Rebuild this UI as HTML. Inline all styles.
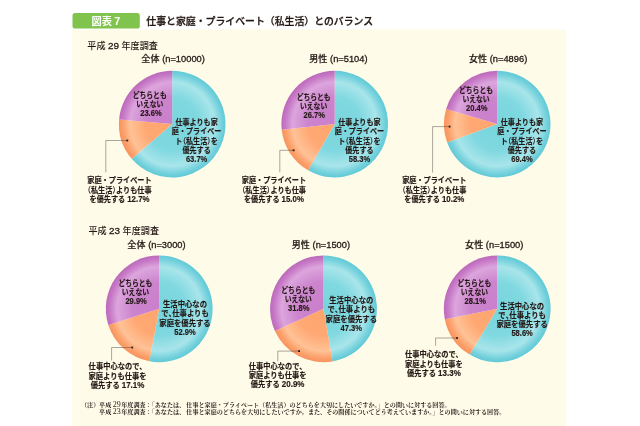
<!DOCTYPE html>
<html lang="ja"><head><meta charset="utf-8"><title>図表7 仕事と家庭・プライベート（私生活）とのバランス</title>
<style>
html,body{margin:0;padding:0;background:#fff;}
body{width:640px;height:426px;overflow:hidden;position:relative;font-family:"Liberation Sans","Noto Sans CJK JP",sans-serif;}
svg{position:absolute;left:0;top:0;display:block}
text{font-family:"Liberation Sans","Noto Sans CJK JP",sans-serif;fill:#231815}
.b{font-weight:700}
.m{font-weight:500}
.lbl{font-size:8.0px;font-weight:700;text-anchor:middle;stroke:#231815;stroke-width:0.16px}
.lbl .d{font-size:8.8px}
.pa{font-feature-settings:"halt";font-weight:500}
.pa2{font-feature-settings:"halt"}
.hd{font-size:9.1px;font-weight:500;text-anchor:middle;stroke:#231815;stroke-width:0.2px}
.hd .d{font-weight:400;font-size:9.3px;stroke:#231815;stroke-width:0.3px}
.yr{font-size:9.1px;font-weight:500}
.yr .d{font-size:9.9px;font-weight:400;stroke:#231815;stroke-width:0.3px}
.note{font-family:"Liberation Serif","Noto Serif CJK JP","Noto Serif CJK SC",serif;font-size:6.09px;fill:#231815;font-weight:700;text-spacing-trim:space-all}
.note .h{font-feature-settings:"halt"}
.note .d{font-size:8px;font-weight:400}
.ld{fill:none;stroke:#57514d;stroke-width:0.5}
</style></head><body>
<svg width="640" height="426" viewBox="0 0 640 426">
<defs>
<radialGradient id="gc1" gradientUnits="userSpaceOnUse" cx="172.2" cy="124.1" r="53.3"><stop offset="0" stop-color="#78d5dd"/><stop offset="0.5" stop-color="#80d8e0"/><stop offset="0.79" stop-color="#a8e5ea"/><stop offset="0.93" stop-color="#74d1dc"/><stop offset="1" stop-color="#60c9d7"/></radialGradient>
<radialGradient id="go1" gradientUnits="userSpaceOnUse" cx="172.2" cy="124.1" r="53.3"><stop offset="0" stop-color="#ffa56e"/><stop offset="0.5" stop-color="#ffa873"/><stop offset="0.79" stop-color="#ffc296"/><stop offset="0.93" stop-color="#fc9e68"/><stop offset="1" stop-color="#f6945e"/></radialGradient>
<radialGradient id="gp1" gradientUnits="userSpaceOnUse" cx="172.2" cy="124.1" r="53.3"><stop offset="0" stop-color="#ca7fcb"/><stop offset="0.5" stop-color="#cc84cd"/><stop offset="0.79" stop-color="#dca5dd"/><stop offset="0.93" stop-color="#c677c5"/><stop offset="1" stop-color="#bb6aba"/></radialGradient>
<radialGradient id="gc2" gradientUnits="userSpaceOnUse" cx="334.7" cy="124.1" r="53.3"><stop offset="0" stop-color="#78d5dd"/><stop offset="0.5" stop-color="#80d8e0"/><stop offset="0.79" stop-color="#a8e5ea"/><stop offset="0.93" stop-color="#74d1dc"/><stop offset="1" stop-color="#60c9d7"/></radialGradient>
<radialGradient id="go2" gradientUnits="userSpaceOnUse" cx="334.7" cy="124.1" r="53.3"><stop offset="0" stop-color="#ffa56e"/><stop offset="0.5" stop-color="#ffa873"/><stop offset="0.79" stop-color="#ffc296"/><stop offset="0.93" stop-color="#fc9e68"/><stop offset="1" stop-color="#f6945e"/></radialGradient>
<radialGradient id="gp2" gradientUnits="userSpaceOnUse" cx="334.7" cy="124.1" r="53.3"><stop offset="0" stop-color="#ca7fcb"/><stop offset="0.5" stop-color="#cc84cd"/><stop offset="0.79" stop-color="#dca5dd"/><stop offset="0.93" stop-color="#c677c5"/><stop offset="1" stop-color="#bb6aba"/></radialGradient>
<radialGradient id="gc3" gradientUnits="userSpaceOnUse" cx="497.2" cy="124.1" r="53.3"><stop offset="0" stop-color="#78d5dd"/><stop offset="0.5" stop-color="#80d8e0"/><stop offset="0.79" stop-color="#a8e5ea"/><stop offset="0.93" stop-color="#74d1dc"/><stop offset="1" stop-color="#60c9d7"/></radialGradient>
<radialGradient id="go3" gradientUnits="userSpaceOnUse" cx="497.2" cy="124.1" r="53.3"><stop offset="0" stop-color="#ffa56e"/><stop offset="0.5" stop-color="#ffa873"/><stop offset="0.79" stop-color="#ffc296"/><stop offset="0.93" stop-color="#fc9e68"/><stop offset="1" stop-color="#f6945e"/></radialGradient>
<radialGradient id="gp3" gradientUnits="userSpaceOnUse" cx="497.2" cy="124.1" r="53.3"><stop offset="0" stop-color="#ca7fcb"/><stop offset="0.5" stop-color="#cc84cd"/><stop offset="0.79" stop-color="#dca5dd"/><stop offset="0.93" stop-color="#c677c5"/><stop offset="1" stop-color="#bb6aba"/></radialGradient>
<radialGradient id="gc4" gradientUnits="userSpaceOnUse" cx="159.2" cy="308.8" r="53.4"><stop offset="0" stop-color="#78d5dd"/><stop offset="0.5" stop-color="#80d8e0"/><stop offset="0.79" stop-color="#a8e5ea"/><stop offset="0.93" stop-color="#74d1dc"/><stop offset="1" stop-color="#60c9d7"/></radialGradient>
<radialGradient id="go4" gradientUnits="userSpaceOnUse" cx="159.2" cy="308.8" r="53.4"><stop offset="0" stop-color="#ffa56e"/><stop offset="0.5" stop-color="#ffa873"/><stop offset="0.79" stop-color="#ffc296"/><stop offset="0.93" stop-color="#fc9e68"/><stop offset="1" stop-color="#f6945e"/></radialGradient>
<radialGradient id="gp4" gradientUnits="userSpaceOnUse" cx="159.2" cy="308.8" r="53.4"><stop offset="0" stop-color="#ca7fcb"/><stop offset="0.5" stop-color="#cc84cd"/><stop offset="0.79" stop-color="#dca5dd"/><stop offset="0.93" stop-color="#c677c5"/><stop offset="1" stop-color="#bb6aba"/></radialGradient>
<radialGradient id="gc5" gradientUnits="userSpaceOnUse" cx="323.5" cy="308.8" r="53.4"><stop offset="0" stop-color="#78d5dd"/><stop offset="0.5" stop-color="#80d8e0"/><stop offset="0.79" stop-color="#a8e5ea"/><stop offset="0.93" stop-color="#74d1dc"/><stop offset="1" stop-color="#60c9d7"/></radialGradient>
<radialGradient id="go5" gradientUnits="userSpaceOnUse" cx="323.5" cy="308.8" r="53.4"><stop offset="0" stop-color="#ffa56e"/><stop offset="0.5" stop-color="#ffa873"/><stop offset="0.79" stop-color="#ffc296"/><stop offset="0.93" stop-color="#fc9e68"/><stop offset="1" stop-color="#f6945e"/></radialGradient>
<radialGradient id="gp5" gradientUnits="userSpaceOnUse" cx="323.5" cy="308.8" r="53.4"><stop offset="0" stop-color="#ca7fcb"/><stop offset="0.5" stop-color="#cc84cd"/><stop offset="0.79" stop-color="#dca5dd"/><stop offset="0.93" stop-color="#c677c5"/><stop offset="1" stop-color="#bb6aba"/></radialGradient>
<radialGradient id="gc6" gradientUnits="userSpaceOnUse" cx="497.2" cy="308.8" r="53.4"><stop offset="0" stop-color="#78d5dd"/><stop offset="0.5" stop-color="#80d8e0"/><stop offset="0.79" stop-color="#a8e5ea"/><stop offset="0.93" stop-color="#74d1dc"/><stop offset="1" stop-color="#60c9d7"/></radialGradient>
<radialGradient id="go6" gradientUnits="userSpaceOnUse" cx="497.2" cy="308.8" r="53.4"><stop offset="0" stop-color="#ffa56e"/><stop offset="0.5" stop-color="#ffa873"/><stop offset="0.79" stop-color="#ffc296"/><stop offset="0.93" stop-color="#fc9e68"/><stop offset="1" stop-color="#f6945e"/></radialGradient>
<radialGradient id="gp6" gradientUnits="userSpaceOnUse" cx="497.2" cy="308.8" r="53.4"><stop offset="0" stop-color="#ca7fcb"/><stop offset="0.5" stop-color="#cc84cd"/><stop offset="0.79" stop-color="#dca5dd"/><stop offset="0.93" stop-color="#c677c5"/><stop offset="1" stop-color="#bb6aba"/></radialGradient>
</defs>
<rect x="72.2" y="29.5" width="494" height="398" fill="#fffbe9"/>
<rect x="72.5" y="13.1" width="67.3" height="15.5" rx="2.6" ry="2.6" fill="#80c44e"/>
<text x="91.6" y="25.0" class="b" style="font-size:10.2px;fill:#fff">図表<tspan dx="2.2" style="font-size:10.8px">7</tspan></text>
<text x="146.3" y="25.1" class="m" style="font-size:9.9px;stroke:#231815;stroke-width:0.28px">仕事と家庭・プライベート（私生活）とのバランス</text>
<text x="87.3" y="48.8" class="yr">平成 <tspan class="d">29</tspan> 年度調査</text>
<text x="88.4" y="234.4" class="yr">平成 <tspan class="d">23</tspan> 年度調査</text>
<path d="M172.20,124.10L172.20,70.80A53.3,53.3 0 1 1 131.78,158.84Z" fill="url(#gc1)"/>
<path d="M172.20,124.10L131.78,158.84A53.3,53.3 0 0 1 119.11,119.42Z" fill="url(#go1)"/>
<path d="M172.20,124.10L119.11,119.42A53.3,53.3 0 0 1 172.20,70.80Z" fill="url(#gp1)"/>
<path d="M334.70,124.10L334.70,70.80A53.3,53.3 0 1 1 308.15,170.31Z" fill="url(#gc2)"/>
<path d="M334.70,124.10L308.15,170.31A53.3,53.3 0 0 1 281.70,129.78Z" fill="url(#go2)"/>
<path d="M334.70,124.10L281.70,129.78A53.3,53.3 0 0 1 334.70,70.80Z" fill="url(#gp2)"/>
<path d="M497.20,124.10L497.20,70.80A53.3,53.3 0 1 1 447.17,142.47Z" fill="url(#gc3)"/>
<path d="M497.20,124.10L447.17,142.47A53.3,53.3 0 0 1 446.11,108.91Z" fill="url(#go3)"/>
<path d="M497.20,124.10L446.11,108.91A53.3,53.3 0 0 1 497.20,70.80Z" fill="url(#gp3)"/>
<path d="M159.20,308.80L159.20,255.40A53.4,53.4 0 1 1 149.35,361.28Z" fill="url(#gc4)"/>
<path d="M159.20,308.80L149.35,361.28A53.4,53.4 0 0 1 108.34,325.08Z" fill="url(#go4)"/>
<path d="M159.20,308.80L108.34,325.08A53.4,53.4 0 0 1 159.20,255.40Z" fill="url(#gp4)"/>
<path d="M323.50,308.80L323.50,255.40A53.4,53.4 0 0 1 332.52,361.43Z" fill="url(#gc5)"/>
<path d="M323.50,308.80L332.52,361.43A53.4,53.4 0 0 1 274.90,330.93Z" fill="url(#go5)"/>
<path d="M323.50,308.80L274.90,330.93A53.4,53.4 0 0 1 323.50,255.40Z" fill="url(#gp5)"/>
<path d="M497.20,308.80L497.20,255.40A53.4,53.4 0 1 1 469.73,354.59Z" fill="url(#gc6)"/>
<path d="M497.20,308.80L469.73,354.59A53.4,53.4 0 0 1 444.81,319.14Z" fill="url(#go6)"/>
<path d="M497.20,308.80L444.81,319.14A53.4,53.4 0 0 1 497.20,255.40Z" fill="url(#gp6)"/>
<text x="173.1" y="62.3" class="hd">全体<tspan class="d" dx="2.6">(n=10000)</tspan></text>
<text x="338.4" y="62.3" class="hd">男性<tspan class="d" dx="2.6">(n=5104)</tspan></text>
<text x="498.1" y="62.3" class="hd">女性<tspan class="d" dx="2.6">(n=4896)</tspan></text>
<text x="156.5" y="248.1" class="hd">全体<tspan class="d" dx="2.6">(n=3000)</tspan></text>
<text x="320.9" y="248.1" class="hd">男性<tspan class="d" dx="2.6">(n=1500)</tspan></text>
<text x="494.2" y="248.1" class="hd">女性<tspan class="d" dx="2.6">(n=1500)</tspan></text>
<text transform="translate(196.6,124.9) scale(0.885,1)" class="lbl">仕事よりも家</text>
<text transform="translate(196.6,134.2) scale(0.885,1)" class="lbl">庭・プライベー</text>
<text transform="translate(196.6,143.5) scale(0.885,1)" class="lbl">ト<tspan class="pa">（</tspan>私生活<tspan class="pa">）</tspan>を</text>
<text transform="translate(196.6,152.8) scale(0.885,1)" class="lbl">優先する</text>
<text transform="translate(196.6,161.7) scale(0.86,1)" class="lbl"><tspan class="d">63.7%</tspan></text>
<text transform="translate(149.7,97.7) scale(0.85,1)" class="lbl">どちらとも</text>
<text transform="translate(149.7,106.9) scale(0.85,1)" class="lbl">いえない</text>
<text transform="translate(150.9,115.6) scale(0.86,1)" class="lbl"><tspan class="d">23.6%</tspan></text>
<text transform="translate(119.5,183.3) scale(0.895,1)" class="lbl">家庭・プライベート</text>
<text transform="translate(119.5,192.7) scale(0.895,1)" class="lbl"><tspan class="pa">（</tspan>私生活<tspan class="pa">）</tspan>よりも仕事</text>
<text transform="translate(119.5,201.7) scale(0.895,1)" class="lbl">を優先する <tspan class="d">12.7%</tspan></text>
<path class="ld" d="M127.3,140.5H105.8V172.3"/>
<rect x="126.39999999999999" y="139.6" width="1.8" height="1.8" fill="#231815"/>
<text transform="translate(359.4,124.9) scale(0.885,1)" class="lbl">仕事よりも家</text>
<text transform="translate(359.4,134.2) scale(0.885,1)" class="lbl">庭・プライベー</text>
<text transform="translate(359.4,143.5) scale(0.885,1)" class="lbl">ト<tspan class="pa">（</tspan>私生活<tspan class="pa">）</tspan>を</text>
<text transform="translate(359.4,152.8) scale(0.885,1)" class="lbl">優先する</text>
<text transform="translate(359.4,161.7) scale(0.86,1)" class="lbl"><tspan class="d">58.3%</tspan></text>
<text transform="translate(313.6,100.1) scale(0.85,1)" class="lbl">どちらとも</text>
<text transform="translate(313.6,109.3) scale(0.85,1)" class="lbl">いえない</text>
<text transform="translate(314.3,118.2) scale(0.86,1)" class="lbl"><tspan class="d">26.7%</tspan></text>
<text transform="translate(273.9,183.3) scale(0.895,1)" class="lbl">家庭・プライベート</text>
<text transform="translate(273.9,192.7) scale(0.895,1)" class="lbl"><tspan class="pa">（</tspan>私生活<tspan class="pa">）</tspan>よりも仕事</text>
<text transform="translate(273.9,201.7) scale(0.895,1)" class="lbl">を優先する <tspan class="d">15.0%</tspan></text>
<path class="ld" d="M293.6,150.3H279.8V172.3"/>
<rect x="292.70000000000005" y="149.4" width="1.8" height="1.8" fill="#231815"/>
<text transform="translate(521.9,124.9) scale(0.885,1)" class="lbl">仕事よりも家</text>
<text transform="translate(521.9,134.2) scale(0.885,1)" class="lbl">庭・プライベー</text>
<text transform="translate(521.9,143.5) scale(0.885,1)" class="lbl">ト<tspan class="pa">（</tspan>私生活<tspan class="pa">）</tspan>を</text>
<text transform="translate(521.9,152.8) scale(0.885,1)" class="lbl">優先する</text>
<text transform="translate(521.9,161.7) scale(0.86,1)" class="lbl"><tspan class="d">69.4%</tspan></text>
<text transform="translate(476.0,93.0) scale(0.85,1)" class="lbl">どちらとも</text>
<text transform="translate(476.0,102.2) scale(0.85,1)" class="lbl">いえない</text>
<text transform="translate(476.7,111.1) scale(0.86,1)" class="lbl"><tspan class="d">20.4%</tspan></text>
<text transform="translate(434.3,183.3) scale(0.895,1)" class="lbl">家庭・プライベート</text>
<text transform="translate(434.3,192.7) scale(0.895,1)" class="lbl"><tspan class="pa">（</tspan>私生活<tspan class="pa">）</tspan>よりも仕事</text>
<text transform="translate(434.3,201.7) scale(0.895,1)" class="lbl">を優先する <tspan class="d">10.2%</tspan></text>
<path class="ld" d="M449.6,126.6H432.6V172.6"/>
<rect x="448.70000000000005" y="125.69999999999999" width="1.8" height="1.8" fill="#231815"/>
<text transform="translate(185.0,307.0) scale(0.92,1)" class="lbl">生活中心なの</text>
<text transform="translate(185.0,316.3) scale(0.92,1)" class="lbl">で<tspan class="pa2">、</tspan>仕事よりも</text>
<text transform="translate(185.0,325.6) scale(0.92,1)" class="lbl">家庭を優先する</text>
<text transform="translate(185.0,334.6) scale(0.86,1)" class="lbl"><tspan class="d">52.9%</tspan></text>
<text transform="translate(135.4,285.7) scale(0.85,1)" class="lbl">どちらとも</text>
<text transform="translate(135.4,295.1) scale(0.85,1)" class="lbl">いえない</text>
<text transform="translate(136.1,304.2) scale(0.86,1)" class="lbl"><tspan class="d">29.9%</tspan></text>
<text transform="translate(117.5,369.2) scale(0.91,1)" class="lbl">仕事中心なので、</text>
<text transform="translate(117.5,378.6) scale(0.91,1)" class="lbl">家庭よりも仕事を</text>
<text transform="translate(117.5,387.9) scale(0.91,1)" class="lbl">優先する <tspan class="d">17.1%</tspan></text>
<path class="ld" d="M132.2,347.5H111.6V360.5"/>
<rect x="131.29999999999998" y="346.6" width="1.8" height="1.8" fill="#231815"/>
<text transform="translate(351.3,303.1) scale(0.92,1)" class="lbl">生活中心なの</text>
<text transform="translate(351.3,312.4) scale(0.92,1)" class="lbl">で<tspan class="pa2">、</tspan>仕事よりも</text>
<text transform="translate(351.3,321.6) scale(0.92,1)" class="lbl">家庭を優先する</text>
<text transform="translate(351.3,330.7) scale(0.86,1)" class="lbl"><tspan class="d">47.3%</tspan></text>
<text transform="translate(298.3,292.5) scale(0.85,1)" class="lbl">どちらとも</text>
<text transform="translate(298.3,301.8) scale(0.85,1)" class="lbl">いえない</text>
<text transform="translate(298.8,310.5) scale(0.86,1)" class="lbl"><tspan class="d">31.8%</tspan></text>
<text transform="translate(277.6,368.7) scale(0.91,1)" class="lbl">仕事中心なので、</text>
<text transform="translate(277.6,377.9) scale(0.91,1)" class="lbl">家庭よりも仕事を</text>
<text transform="translate(277.6,387.3) scale(0.91,1)" class="lbl">優先する <tspan class="d">20.9%</tspan></text>
<path class="ld" d="M299.1,351.1H277.8V361.3"/>
<rect x="298.20000000000005" y="350.20000000000005" width="1.8" height="1.8" fill="#231815"/>
<text transform="translate(522.1,308.7) scale(0.92,1)" class="lbl">生活中心なの</text>
<text transform="translate(522.1,318.0) scale(0.92,1)" class="lbl">で<tspan class="pa2">、</tspan>仕事よりも</text>
<text transform="translate(522.1,327.1) scale(0.92,1)" class="lbl">家庭を優先する</text>
<text transform="translate(522.1,336.0) scale(0.86,1)" class="lbl"><tspan class="d">58.6%</tspan></text>
<text transform="translate(474.4,285.8) scale(0.85,1)" class="lbl">どちらとも</text>
<text transform="translate(474.4,294.8) scale(0.85,1)" class="lbl">いえない</text>
<text transform="translate(475.2,303.7) scale(0.86,1)" class="lbl"><tspan class="d">28.1%</tspan></text>
<text transform="translate(433.9,357.2) scale(0.91,1)" class="lbl">仕事中心なので、</text>
<text transform="translate(433.9,366.6) scale(0.91,1)" class="lbl">家庭よりも仕事を</text>
<text transform="translate(433.9,375.8) scale(0.91,1)" class="lbl">優先する <tspan class="d">13.3%</tspan></text>
<path class="ld" d="M457.0,338.0H435.6V345.8"/>
<rect x="456.1" y="337.1" width="1.8" height="1.8" fill="#231815"/>
<text x="81" y="406.8" class="note">（注）</text>
<text x="99.1" y="406.8" class="note">平成<tspan class="d" dx="1.5">29</tspan><tspan dx="0.5">年度調査：</tspan><tspan class="h">「</tspan>あなたは、<tspan dx="1.2">仕</tspan>事と家庭・プライベート（私生活）のどちらを大切にしたいですか<tspan class="h">。</tspan>」との問いに対する回答。</text>
<text x="99.1" y="414.3" class="note">平成<tspan class="d" dx="1.5">23</tspan><tspan dx="0.5">年度調査：</tspan><tspan class="h">「</tspan>あなたは、<tspan dx="1.2">仕</tspan>事と家庭のどちらを大切にしたいですか。また、その関係についてどう考えていますか<tspan class="h">。</tspan>」との問いに対する回答。</text>
</svg></body></html>
